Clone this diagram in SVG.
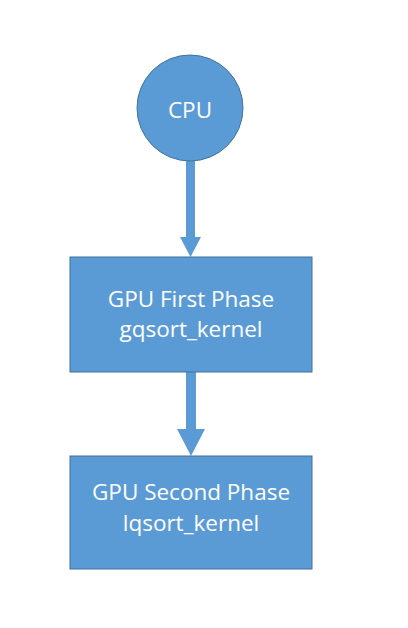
<svg xmlns="http://www.w3.org/2000/svg" width="408" height="628" viewBox="0 0 408 628">
<style>
.node{fill:#5B9BD5;stroke:#41719C;stroke-width:1}
.lbl{font-family:"Open Sans","Liberation Sans",sans-serif;font-size:22.5px;fill:#FFFFFF;text-anchor:middle}
.arr{fill:#5B9BD5;stroke:none}
</style>
<rect width="408" height="628" fill="#FFFFFF"/>
<g id="connectors">
<polygon class="arr" points="186,161 195,161 195,237 201,237 190.5,257 180,237 186,237"/>
<polygon class="arr" points="186,372 196,372 196,429 205,429 191,456 177,429 186,429"/>
</g>
<g id="cpu">
<circle class="node" cx="190" cy="108" r="53"/>
<text class="lbl" x="190" y="118">CPU</text>
</g>
<g id="gpu1">
<rect class="node" x="70" y="257" width="242" height="115"/>
<text class="lbl" x="191" y="307">GPU First Phase</text>
<text class="lbl" x="191" y="337">gqsort_kernel</text>
</g>
<g id="gpu2">
<rect class="node" x="70" y="456" width="242" height="113"/>
<text class="lbl" x="191" y="500">GPU Second Phase</text>
<text class="lbl" x="191" y="531">lqsort_kernel</text>
</g>
</svg>
